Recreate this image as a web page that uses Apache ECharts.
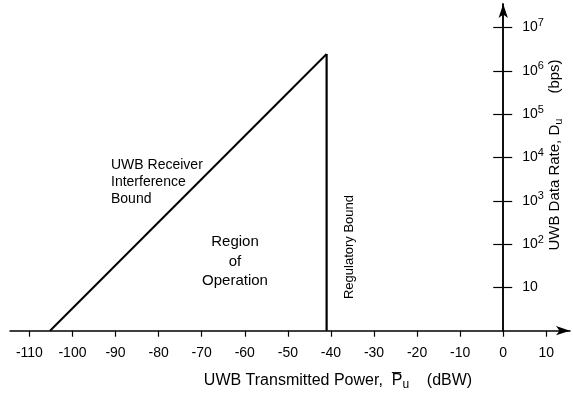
<!DOCTYPE html>
<html>
<head>
<meta charset="utf-8">
<script src="https://cdn.jsdelivr.net/npm/echarts@6/dist/echarts.min.js"></script>
<style>
html,body{margin:0;padding:0;background:#fff;}
#chart{width:573px;height:393px;}
</style>
</head>
<body>
<div id="chart"></div>
<script>
// Data
const interferenceX = [-105.2, -41];       // dBW
const interferenceRate = [1, 2.45e6];      // bps
const regulatoryX = [-41, -41];            // dBW
const regulatoryRate = [1, 2.45e6];        // bps
const xTicks = [-110, -100, -90, -80, -70, -60, -50, -40, -30, -20, -10, 0, 10];
const yTicks = [10, 100, 1000, 10000, 100000, 1000000, 10000000];

const X_MIN = -114.5, X_MAX = 15.5;
const FONT = '"Liberation Sans", Arial, Helvetica, sans-serif';
const chart = echarts.init(document.getElementById('chart'));

function yLabel(v) {
  const e = Math.round(Math.log10(v));
  if (e === 1) return '10';
  return '10{sup|' + e + '}';
}

const yCommon = {
  type: 'log',
  logBase: 10,
  min: 1,
  max: 3.5e7,
  splitLine: { show: false }
};

chart.setOption({
  animation: false,
  backgroundColor: '#fff',
  grid: { left: 10, right: 3, top: 4, bottom: 62.3, outerBoundsMode: 'none', containLabel: false },
  xAxis: {
    type: 'value',
    min: X_MIN,
    max: X_MAX,
    splitLine: { show: false },
    axisLine: { onZero: false, lineStyle: { color: '#000', width: 1.5 }, symbol: ['none', 'arrow'], symbolSize: [7, 14] },
    axisTick: { customValues: xTicks, length: 6, lineStyle: { color: '#000', width: 1.2 } },
    axisLabel: { customValues: xTicks, margin: 15, color: '#000', fontSize: 14, fontFamily: FONT }
  },
  yAxis: [
    Object.assign({}, yCommon, {
      position: 'right',
      offset: 0,
      axisLine: { onZero: false, lineStyle: { color: '#000', width: 1.5 }, symbol: ['none', 'arrow'], symbolSize: [7, 14] },
      axisTick: { customValues: yTicks, length: 9, lineStyle: { color: '#000', width: 1.2 } },
      axisLabel: {
        customValues: yTicks, margin: 19, color: '#000', fontSize: 14, fontFamily: FONT,
        formatter: yLabel,
        rich: { sup: { fontSize: 11, fontFamily: FONT, color: '#000', padding: [0, 0, 9, 0] } }
      }
    }),
    Object.assign({}, yCommon, {
      position: 'left',
      offset: 0,
      axisLine: { onZero: false, lineStyle: { color: '#000', width: 1.5 } },
      axisTick: { customValues: yTicks, length: 10, lineStyle: { color: '#000', width: 1.2 } },
      axisLabel: { show: false }
    })
  ],
  series: [
    {
      type: 'line', yAxisIndex: 0, showSymbol: false, silent: true,
      lineStyle: { color: '#000', width: 2 },
      data: interferenceX.map((x, i) => [x, interferenceRate[i]])
    },
    {
      type: 'line', yAxisIndex: 0, showSymbol: false, silent: true,
      lineStyle: { color: '#000', width: 2.2 },
      data: regulatoryX.map((x, i) => [x, regulatoryRate[i]])
    }
  ],
  graphic: [
    { type: 'text', left: 111, top: 157, style: { text: 'UWB Receiver\nInterference\nBound', font: '14px ' + FONT, fill: '#000', lineHeight: 17 } },
    { type: 'text', x: 235, y: 232.5, style: { text: 'Region\nof\nOperation', font: '15px ' + FONT, fill: '#000', align: 'center', lineHeight: 19.5 } },
    { type: 'text', x: 349, y: 247, rotation: Math.PI / 2, style: { text: 'Regulatory Bound', font: '13px ' + FONT, fill: '#000', align: 'center', verticalAlign: 'middle' } },
    { type: 'text', x: 555, y: 155, rotation: Math.PI / 2, style: {
        text: 'UWB Data Rate, D{sub|u}      (bps)', font: '15px ' + FONT, fill: '#000', align: 'center', verticalAlign: 'middle',
        rich: { sub: { fontSize: 11, fontFamily: FONT, fill: '#000', padding: [8, 0, 0, 0] } } } },
    { type: 'text', x: 338, y: 381, style: {
        text: 'UWB Transmitted Power,  P\u0305{sub|u}    (dBW)', font: '16px ' + FONT, fill: '#000', align: 'center', verticalAlign: 'middle',
        rich: { sub: { fontSize: 12, fontFamily: FONT, fill: '#000', padding: [8, 0, 0, 0] } } } }
  ]
});

// Place the vertical axis at x = 0 of the horizontal scale
const px0 = chart.convertToPixel({ gridIndex: 0 }, [0, 1])[0];
const pxL = chart.convertToPixel({ gridIndex: 0 }, [X_MIN, 1])[0];
const pxR = chart.convertToPixel({ gridIndex: 0 }, [X_MAX, 1])[0];
chart.setOption({ yAxis: [{ offset: px0 - pxR }, { offset: pxL - px0 }] });
</script>
</body>
</html>
